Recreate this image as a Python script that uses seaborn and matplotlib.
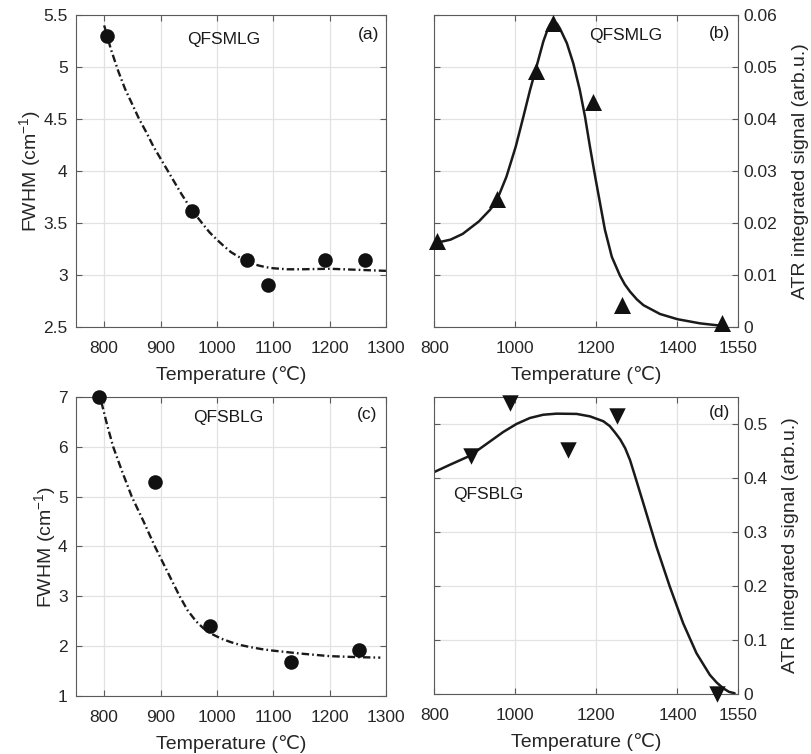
import matplotlib
matplotlib.use("Agg")
import matplotlib.pyplot as plt
import seaborn as sns
from matplotlib.ticker import FuncFormatter

# (a) QFSMLG - FWHM, measured points and fitted curve
mlg_fwhm_temp = [805, 955, 1053, 1090, 1192, 1263]
mlg_fwhm = [5.30, 3.62, 3.14, 2.90, 3.14, 3.14]
mlg_fwhm_fit_temp = [800, 812, 825, 837, 850, 862, 875, 887, 900, 912, 925, 937,
                     950, 962, 975, 987, 1000, 1012, 1025, 1037, 1050, 1062,
                     1075, 1087, 1100, 1125, 1150, 1200, 1250, 1300]
mlg_fwhm_fit = [5.40, 5.17, 4.96, 4.79, 4.64, 4.50, 4.37, 4.24, 4.12, 4.01, 3.89,
                3.78, 3.67, 3.58, 3.49, 3.41, 3.34, 3.28, 3.22, 3.18, 3.14, 3.11,
                3.09, 3.075, 3.065, 3.055, 3.055, 3.06, 3.05, 3.04]

# (b) QFSMLG - ATR integrated signal
mlg_atr_temp = [806, 954, 1051, 1092, 1191, 1264, 1511]
mlg_atr = [0.0166, 0.0247, 0.0492, 0.0584, 0.0433, 0.0042, 0.0007]
mlg_atr_fit_temp = [800, 840, 870, 910, 937, 953, 978, 1001, 1020, 1036, 1053,
                    1069, 1080, 1086, 1092, 1098, 1103, 1110, 1127, 1143, 1159,
                    1172, 1184, 1197, 1209, 1221, 1238, 1258, 1270, 1283, 1300,
                    1316, 1357, 1400, 1456, 1490, 1515]
mlg_atr_fit = [0.0161, 0.0168, 0.0179, 0.0203, 0.0225, 0.0241, 0.0289, 0.0347,
               0.0405, 0.0455, 0.0503, 0.0549, 0.0573, 0.0582, 0.0587, 0.0586,
               0.0583, 0.0574, 0.0546, 0.0507, 0.0456, 0.0404, 0.0347, 0.0289,
               0.0238, 0.0187, 0.0135, 0.0099, 0.0082, 0.0068, 0.0053, 0.0042,
               0.0025, 0.0015, 0.0007, 0.0004, 0.0002]

# (c) QFSBLG - FWHM
blg_fwhm_temp = [791, 890, 988, 1132, 1252]
blg_fwhm = [7.0, 5.3, 2.41, 1.68, 1.92]
blg_fwhm_fit_temp = [795, 805, 816, 832, 849, 870, 890, 912, 934, 948, 963, 976,
                     990, 1008, 1025, 1043, 1060, 1080, 1100, 1150, 1200, 1250,
                     1290]
blg_fwhm_fit = [6.9, 6.45, 6.0, 5.5, 5.0, 4.5, 4.0, 3.5, 3.0, 2.72, 2.5, 2.36,
                2.25, 2.15, 2.08, 2.02, 1.98, 1.94, 1.91, 1.85, 1.80, 1.78, 1.77]

# (d) QFSBLG - ATR integrated signal
blg_atr_temp = [890, 987, 1131, 1252, 1498]
blg_atr = [0.440, 0.538, 0.452, 0.515, 0.0]
blg_atr_fit_temp = [800, 839, 888, 929, 970, 1003, 1036, 1069, 1102, 1151, 1184,
                    1217, 1233, 1246, 1259, 1271, 1283, 1295, 1315, 1348, 1381,
                    1414, 1447, 1480, 1497, 1513, 1527, 1541]
blg_atr_fit = [0.411, 0.4245, 0.441, 0.463, 0.485, 0.500, 0.511, 0.517, 0.519,
               0.5185, 0.514, 0.505, 0.496, 0.484, 0.471, 0.455, 0.433, 0.404,
               0.355, 0.273, 0.199, 0.131, 0.0754, 0.0352, 0.021, 0.0105,
               0.004, 0.0013]

fwhm_xticks = [800, 900, 1000, 1100, 1200, 1300]
atr_xticks = [800, 1000, 1200, 1400, 1550]

TEXT_C = "#262626"
EDGE_C = "#5a5a5a"
DASHDOT = (0, (3.2, 1.3, 0.7, 1.3))


def style_axes(ax, xlim, xticks, ylim, yticks, ylabel, right=False):
    ax.set_xlim(xlim)
    ax.set_ylim(ylim)
    ax.set_xticks(xticks)
    ax.set_yticks(yticks)
    fmt = FuncFormatter(lambda v, p: f"{v:g}")
    ax.xaxis.set_major_formatter(fmt)
    ax.yaxis.set_major_formatter(fmt)
    ax.grid(True, color="#e2e2e2", lw=0.9)
    ax.set_axisbelow(True)
    ax.tick_params(direction="in", length=4, width=0.8, color=EDGE_C,
                   labelcolor=TEXT_C, labelsize=12.5,
                   bottom=True, top=True, left=True, right=True)
    ax.tick_params(axis="x", pad=10)
    for s in ax.spines.values():
        s.set_visible(True)
        s.set_color(EDGE_C)
        s.set_linewidth(0.8)
    ax.set_xlabel("Temperature (\u2103)", fontsize=14, color=TEXT_C, labelpad=7)
    if right:
        ax.tick_params(axis="y", labelleft=False, labelright=True, pad=4)
        ax.yaxis.set_label_position("right")
        ax.set_ylabel(ylabel, fontsize=14, color=TEXT_C, labelpad=10)
    else:
        ax.tick_params(axis="y", pad=6)
        ax.set_ylabel(ylabel, fontsize=14, color=TEXT_C, labelpad=0)


def main():
    sns.set_theme(style="whitegrid")
    plt.rcParams["font.family"] = ["Liberation Sans", "DejaVu Sans"]
    plt.rcParams["mathtext.fontset"] = "custom"
    plt.rcParams["mathtext.rm"] = "Liberation Sans"
    plt.rcParams["mathtext.default"] = "regular"

    fig = plt.figure(figsize=(8.11, 7.54), dpi=100)
    ax_a = fig.add_axes([0.0937, 0.5663, 0.3822, 0.4138])
    ax_b = fig.add_axes([0.5355, 0.5663, 0.3748, 0.4138])
    ax_c = fig.add_axes([0.0937, 0.0769, 0.3822, 0.3966])
    ax_d = fig.add_axes([0.5355, 0.0796, 0.3748, 0.3940])

    fwhm_label = "FWHM (cm$^{-1}$)"
    atr_label = "ATR integrated signal (arb.u.)"

    # (a)
    sns.lineplot(x=mlg_fwhm_fit_temp, y=mlg_fwhm_fit, ax=ax_a, color="k",
                 lw=1.7, linestyle=DASHDOT, sort=False)
    sns.scatterplot(x=mlg_fwhm_temp, y=mlg_fwhm, ax=ax_a, marker="o", s=110,
                    color="#111111", linewidth=0, clip_on=False, zorder=3)
    style_axes(ax_a, (750, 1300), fwhm_xticks, (2.5, 5.5),
               [2.5, 3, 3.5, 4, 4.5, 5, 5.5], fwhm_label)
    ax_a.text(0.477, 0.923, "QFSMLG", transform=ax_a.transAxes, ha="center",
              va="center", fontsize=12.5, color="k")
    ax_a.text(0.977, 0.939, "(a)", transform=ax_a.transAxes, ha="right",
              va="center", fontsize=12.5, color="k")

    # (b)
    sns.lineplot(x=mlg_atr_fit_temp, y=mlg_atr_fit, ax=ax_b, color="k",
                 lw=1.8, sort=False)
    sns.scatterplot(x=mlg_atr_temp, y=mlg_atr, ax=ax_b, marker="^", s=150,
                    color="#111111", linewidth=0, clip_on=False, zorder=3)
    style_axes(ax_b, (800, 1550), atr_xticks, (0, 0.06),
               [0, 0.01, 0.02, 0.03, 0.04, 0.05, 0.06], atr_label, right=True)
    ax_b.text(0.630, 0.933, "QFSMLG", transform=ax_b.transAxes, ha="center",
              va="center", fontsize=12.5, color="k")
    ax_b.text(0.973, 0.942, "(b)", transform=ax_b.transAxes, ha="right",
              va="center", fontsize=12.5, color="k")

    # (c)
    sns.lineplot(x=blg_fwhm_fit_temp, y=blg_fwhm_fit, ax=ax_c, color="k",
                 lw=1.7, linestyle=DASHDOT, sort=False)
    sns.scatterplot(x=blg_fwhm_temp, y=blg_fwhm, ax=ax_c, marker="o", s=110,
                    color="#111111", linewidth=0, clip_on=False, zorder=3)
    style_axes(ax_c, (750, 1300), fwhm_xticks, (1, 7),
               [1, 2, 3, 4, 5, 6, 7], fwhm_label)
    ax_c.text(0.490, 0.932, "QFSBLG", transform=ax_c.transAxes, ha="center",
              va="center", fontsize=12.5, color="k")
    ax_c.text(0.973, 0.940, "(c)", transform=ax_c.transAxes, ha="right",
              va="center", fontsize=12.5, color="k")

    # (d)
    sns.lineplot(x=blg_atr_fit_temp, y=blg_atr_fit, ax=ax_d, color="k",
                 lw=1.8, sort=False)
    sns.scatterplot(x=blg_atr_temp, y=blg_atr, ax=ax_d, marker="v", s=140,
                    color="#111111", linewidth=0, clip_on=False, zorder=3)
    style_axes(ax_d, (800, 1550), atr_xticks, (0, 0.55),
               [0, 0.1, 0.2, 0.3, 0.4, 0.5], atr_label, right=True)
    ax_d.text(0.178, 0.673, "QFSBLG", transform=ax_d.transAxes, ha="center",
              va="center", fontsize=12.5, color="k")
    ax_d.text(0.973, 0.947, "(d)", transform=ax_d.transAxes, ha="right",
              va="center", fontsize=12.5, color="k")

    fig.savefig("out.png", dpi=100)
    plt.close(fig)


if __name__ == "__main__":
    main()
